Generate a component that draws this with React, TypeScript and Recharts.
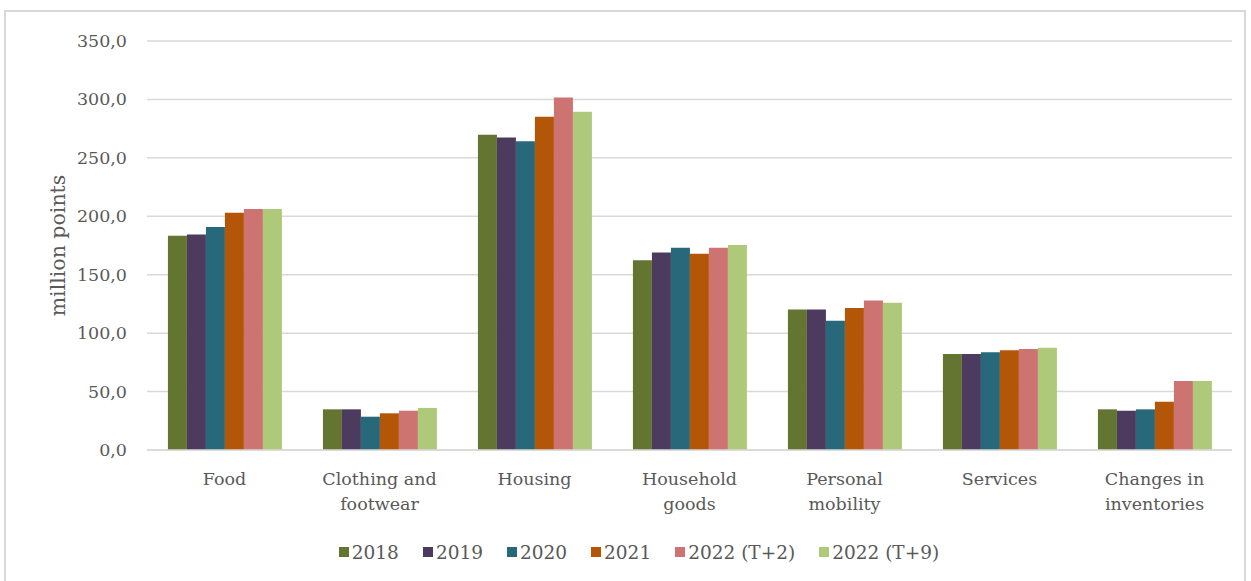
import React from 'react';
import { BarChart, Bar, XAxis, YAxis, CartesianGrid, Legend, Label } from 'recharts';

const categories = ['Food', 'Clothing and footwear', 'Housing', 'Household goods', 'Personal mobility', 'Services', 'Changes in inventories'];
const categoryLines: string[][] = [['Food'], ['Clothing and', 'footwear'], ['Housing'], ['Household', 'goods'], ['Personal', 'mobility'], ['Services'], ['Changes in', 'inventories']];
const seriesNames = ['2018', '2019', '2020', '2021', '2022 (T+2)', '2022 (T+9)'];
const v2018 = [183.3, 34.8, 269.7, 162.3, 120.3, 82.1, 34.8];
const v2019 = [184.5, 34.8, 267.5, 169.1, 120.3, 82.1, 33.6];
const v2020 = [190.8, 28.5, 264.3, 173.1, 110.6, 83.6, 34.8];
const v2021 = [203.0, 31.4, 285.1, 167.9, 121.5, 85.3, 41.3];
const v2022T2 = [206.2, 33.6, 301.7, 173.1, 128.0, 86.4, 59.0];
const v2022T9 = [206.2, 36.0, 289.4, 175.4, 126.0, 87.5, 59.0];
const yTicks = [0, 50, 100, 150, 200, 250, 300, 350];
const colors = ['#637531', '#4d3b5f', '#27697a', '#b35608', '#cd7371', '#afc97a'];

const seriesValues = [v2018, v2019, v2020, v2021, v2022T2, v2022T9];
const keys = ['s0', 's1', 's2', 's3', 's4', 's5'];
const data = categories.map((c, i) => {
  const row: any = { name: c, idx: i };
  keys.forEach((k, j) => { row[k] = seriesValues[j][i]; });
  return row;
});

const FONT = '"DejaVu Serif", serif';
const TEXT = '#595959';

const YTick = (props: any) => {
  const { y, payload } = props;
  return (
    <text x={127} y={y} dy={6} textAnchor="end" fill={TEXT} fontFamily={FONT} fontSize={17.5}>
      {payload.value.toFixed(1).replace('.', ',')}
    </text>
  );
};

const XTick = (props: any) => {
  const { x, y, payload } = props;
  const idx = categories.indexOf(payload.value);
  const lines = categoryLines[idx] || [payload.value];
  return (
    <text x={x} y={y} textAnchor="middle" fill={TEXT} fontFamily={FONT} fontSize={17.5}>
      {lines.map((l, i) => (
        <tspan key={i} x={x} dy={i === 0 ? 27 : 25}>{l}</tspan>
      ))}
    </text>
  );
};

const LegendContent = () => (
  <div style={{ display: 'flex', justifyContent: 'center', alignItems: 'center', height: 22, paddingLeft: 46, fontFamily: FONT, fontSize: 18.5, color: TEXT }}>
    {seriesNames.map((n, i) => (
      <div key={n} style={{ display: 'flex', alignItems: 'center', marginRight: i < seriesNames.length - 1 ? 24 : 0 }}>
        <span style={{ display: 'inline-block', width: 10, height: 10, background: colors[i], marginRight: 3 }} />
        <span>{n}</span>
      </div>
    ))}
  </div>
);

export default function App() {
  return (
    <div style={{ position: 'absolute', left: 0, top: 0, width: 1251, height: 581, background: '#fff', overflow: 'hidden' }}>
      <div style={{ position: 'absolute', left: 4, top: 10, width: 1242, height: 580, border: '2px solid #d9d9d9', boxSizing: 'border-box' }} />
      <div style={{ position: 'absolute', left: 0, top: 0 }}>
        <BarChart width={1251} height={581} data={data} margin={{ top: 41, right: 19, left: 0, bottom: 18 }} barCategoryGap="13.5%" barGap={0}>
          <CartesianGrid vertical={false} stroke="#d9d9d9" strokeWidth={1.5} />
          <XAxis dataKey="name" height={91} tick={<XTick />} tickLine={false} axisLine={{ stroke: '#d9d9d9', strokeWidth: 1.5 }} interval={0} />
          <YAxis width={147} domain={[0, 350]} ticks={yTicks} tick={<YTick />} tickLine={false} axisLine={false}>
            <Label value="million points" angle={-90} position="center" dx={-16} fill={TEXT} fontFamily={FONT} fontSize={20.5} />
          </YAxis>
          <Legend verticalAlign="bottom" content={<LegendContent />} />
          {keys.map((k, i) => (
            <Bar key={k} dataKey={k} name={seriesNames[i]} fill={colors[i]} isAnimationActive={false} />
          ))}
        </BarChart>
      </div>
    </div>
  );
}
